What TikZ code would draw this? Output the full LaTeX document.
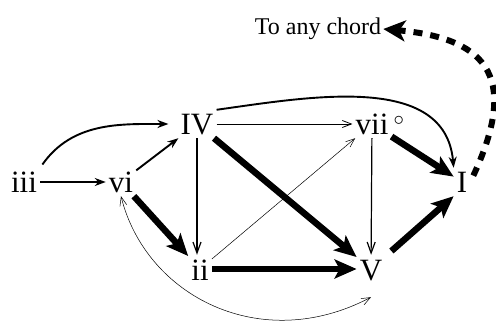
\documentclass[tikz,border=0pt]{standalone}
\usepackage{fontspec}
\setmainfont{Liberation Serif}
\usetikzlibrary{arrows.meta, positioning, calc}

\begin{document}
\begin{tikzpicture}[x=1pt, y=1pt,
  chord/.style={
    font=\fontsize{31}{34}\selectfont, text height=22pt, text depth=0pt,
    inner sep=3pt
  },
  note/.style={font=\fontsize{24}{28}\selectfont, inner sep=2pt},
  weak/.style={-{Straight Barb[length=9pt, width=7pt]}, line width=0.5pt},
  plain/.style={-{Straight Barb[length=11pt, width=8pt]}, line width=1.2pt},
  firm/.style={-{Stealth[length=11pt, width=8pt]}, line width=1.9pt},
  strong/.style={-{Stealth[length=22pt, width=19pt, inset=5pt]}, line width=6.5pt},
  escape/.style={-{Stealth[length=22pt, width=21pt, inset=6pt]}, line width=6pt,
    dash pattern=on 9pt off 8pt}
]
\useasboundingbox (0,0) rectangle (496,322);

% Chords
\node[chord] (iii) at (24,140)  {iii};
\node[chord] (vi)  at (121,140) {vi};
\node[chord] (IV)  at (197,198) {IV};
\node[chord] (vii) at (372,198) {vii\rlap{\,$^{\circ}$}};
\node[chord] (I)   at (462,140) {I};
\node[chord] (ii)  at (200,53)  {ii};
\node[chord] (V)   at (371,53)  {V};
\node[note]  (any) at (318,293) {To any chord};

% Weak progressions
\draw[weak] (ii) -- (vii);
\draw[weak, {Straight Barb[length=9pt, width=7pt]}-{Straight Barb[length=9pt, width=7pt]}]
  (vi.south) .. controls +(25,-100) and +(-110,-58) .. ([yshift=-14pt]V.south);
\draw[weak, line width=0.8pt] (IV) -- (vii);

% Ordinary progressions
\draw[plain] (IV.south) -- (IV.south |- ii.north);
\draw[plain] (vii) -- (V);
\draw[firm] (iii) -- (vi);
\draw[firm] (vi) -- (IV);
\draw[firm, shorten <=4pt, shorten >=9pt] (iii.north east) to[out=55, in=180] (IV.west);
\draw[firm] (IV.north east) to[out=8, in=95] (I.north west);

% Strong progressions
\draw[strong] (vi) -- (ii);
\draw[strong] (IV) -- (V);
\draw[strong] (ii) -- (V);
\draw[strong] (vii) -- (I);
\draw[strong, shorten <=8pt] (V) -- (I.south west);

% Tonic goes anywhere
\draw[escape, shorten <=7pt] (I.east) to[out=65, in=-5, looseness=1.6] (any.east);

\end{tikzpicture}
\end{document}
